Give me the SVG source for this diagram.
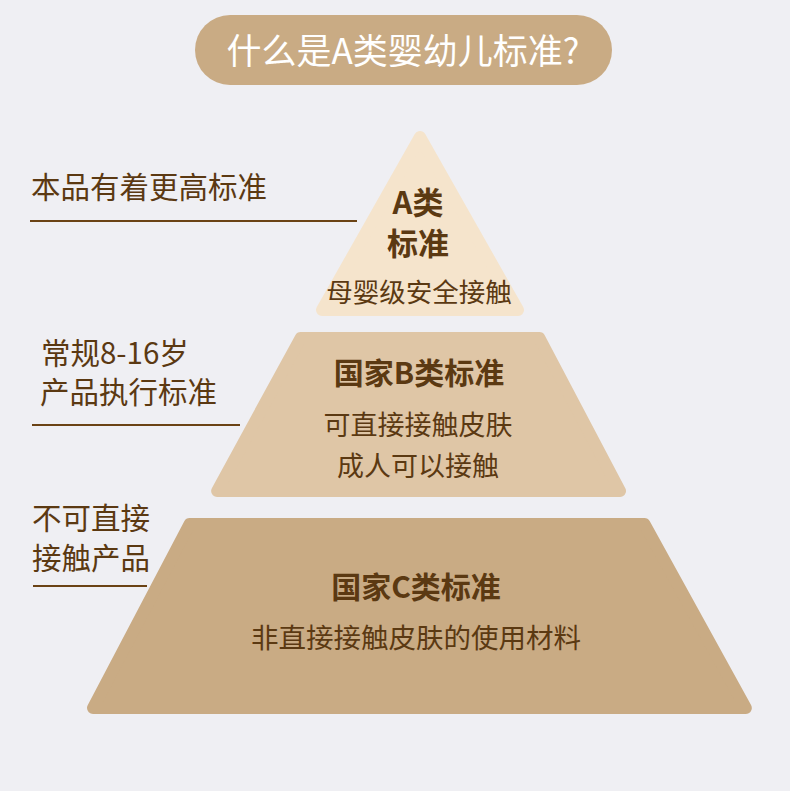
<svg xmlns="http://www.w3.org/2000/svg" width="790" height="791" viewBox="0 0 790 791">
<style>
text{font-family:"Noto Sans CJK SC","Noto Sans",sans-serif;text-anchor:middle;fill:#5b3912}
.t{stroke-width:12;stroke-linejoin:round}
.h{font-weight:bold;font-size:30px}
.s{font-size:26.5px}
.l{font-size:29.5px;text-anchor:start}
.ln{stroke:#6a4214;stroke-width:2;fill:none}
</style>
<rect width="790" height="791" fill="#efeff3"/>
<g id="title">
<rect x="195" y="15" width="417" height="70" rx="35" fill="#c9ab84"/>
<text x="403" y="64" style="font-size:35px;fill:#ffffff">什么是A类婴幼儿标准?</text>
</g>
<g id="tierA">
<polygon class="t" points="420,137 518,310 322,310" fill="#f5e4cc" stroke="#f5e4cc"/>
<text class="h" x="418" y="214" style="font-size:31px">A类</text>
<text class="h" x="418" y="255" style="font-size:31px">标准</text>
<text class="s" x="419" y="302">母婴级安全接触</text>
</g>
<g id="tierB">
<polygon class="t" points="300.6,338 539.4,338 620,491 217.1,491" fill="#dfc6a6" stroke="#dfc6a6"/>
<text class="h" x="419" y="384">国家B类标准</text>
<text class="s" x="418" y="435" style="font-size:27px">可直接接触皮肤</text>
<text class="s" x="418" y="476" style="font-size:27px">成人可以接触</text>
</g>
<g id="tierC">
<polygon class="t" points="189.6,524 644.4,524 745.8,708 93,708" fill="#c9ab84" stroke="#c9ab84"/>
<text class="h" x="416" y="598">国家C类标准</text>
<text class="s" x="416" y="648" style="font-size:27.5px">非直接接触皮肤的使用材料</text>
</g>
<g id="labelA">
<text class="l" x="31" y="198">本品有着更高标准</text>
</g>
<g id="labelB">
<text class="l" x="41" y="364">常规8-16岁</text>
<text class="l" x="40" y="403">产品执行标准</text>
</g>
<g id="labelC">
<text class="l" x="32" y="529">不可直接</text>
<text class="l" x="32" y="569">接触产品</text>
</g>
<g id="connectors">
<line class="ln" x1="30" y1="221" x2="357" y2="221"/>
<line class="ln" x1="32" y1="425" x2="240" y2="425"/>
<line class="ln" x1="33" y1="586" x2="147" y2="586"/>
</g>
</svg>
